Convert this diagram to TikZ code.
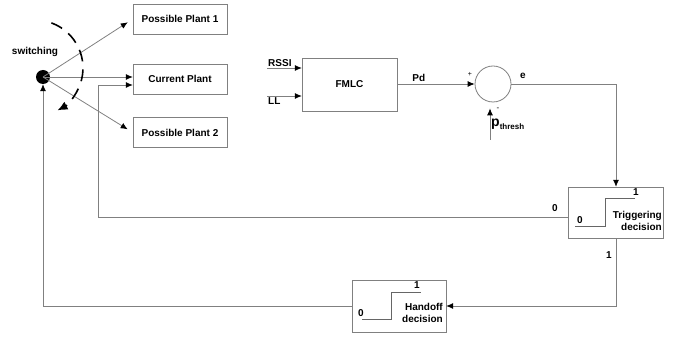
\documentclass[tikz,border=0pt]{standalone}
\usepackage{fontspec}
\setmainfont{Liberation Sans}
\usetikzlibrary{arrows.meta,positioning,calc}
\tikzset{
  blk/.style={draw=black!50,fill=white,minimum width=94pt,minimum height=30pt,inner sep=2pt},
  ln/.style={draw=black!50,line width=0.8pt},
  arr/.style={ln,-{Latex[length=7pt,width=6pt,color=black]}},
  lbl/.style={inner sep=1pt},
  stp/.style={draw=black!60,line width=0.8pt},
  swarc/.style={line width=1.6pt,dash pattern=on 12pt off 8pt},
}

\begin{document}
\begin{tikzpicture}[x=1pt,y=-1pt,font=\fontsize{10}{12}\selectfont\bfseries]
  \useasboundingbox (0,0) rectangle (678,339);
  % switch and plants
  \node[circle,fill,minimum size=14pt,inner sep=0pt] (sw) at (43,77) {};
  \node[lbl] (swl) at (35,52) {switching};
  \node[blk] (pp1) at (180,19) {Possible Plant 1};
  \node[blk] (cp) at (180,79) {Current Plant};
  \node[blk] (pp2) at (180,132.5) {Possible Plant 2};
  \draw[arr,shorten >=6pt] (sw.center) -- (pp1.west);
  \draw[arr] (sw.center) -- (sw.center -| cp.west);
  \draw[arr,shorten >=6pt] (sw.center) -- (pp2.west);
  \draw[swarc,-{Latex[length=10pt,width=9pt]}] (51.4,22.9) arc[start angle=-70,end angle=62,radius=48];
  % controller
  \node[blk,minimum width=95pt,minimum height=53pt] (fmlc) at (349.5,84.5) {FMLC};
  \coordinate (rssi) at (267,68);
  \coordinate (ll) at (267,96);
  \draw[arr] (rssi) -- (rssi -| fmlc.west);
  \draw[arr] (ll) -- (ll -| fmlc.west);
  \node[lbl,anchor=south west] at (rssi) {RSSI};
  \node[lbl,anchor=north west] at (ll) {LL};
  \node[circle,draw=black!50,line width=0.8pt,minimum size=36pt,inner sep=0pt] (sum) at (493,84) {};
  \draw[arr] (fmlc.east |- sum) -- (sum.west) node[lbl,pos=0.28,above=1pt] {Pd};
  \node[font=\fontsize{7}{8}\selectfont] at (470,74) {+};
  \node[font=\fontsize{8}{8}\selectfont] at (498,109) {-};
  \coordinate (pth) at (490,140);
  \draw[arr,shorten >=6pt] (pth) -- (pth |- sum.south);
  \node[anchor=west,inner sep=0pt] (pthl) at (491,124)
    {{\fontsize{14}{14}\selectfont p}\raisebox{-3pt}{\fontsize{8}{9}\selectfont thresh}};
  % triggering decision
  \node[blk,minimum width=95pt,minimum height=51pt] (trig) at (616,212.5) {};
  \coordinate (ec) at (616,84);
  \draw[arr] (sum.east) -- (ec) -- (trig.north);
  \node[lbl] at (523,76) {e};
  \draw[stp] ([shift={(-41,13.5)}]trig.center) -- ++(30,0) -- ++(0,-28) -- ++(30,0);
  \node[lbl] at (636,192) {1};
  \node[lbl] at (580,220) {0};
  \node[lbl,align=right,anchor=north east] at (663,210) {Triggering\\decision};
  \coordinate (fb) at (98,217);
  \draw[arr] (trig.west |- fb) -- (fb) |- ($(cp.west)+(0,6)$);
  \node[lbl] at (555,208) {0};
  % handoff decision
  \node[blk,minimum width=94pt,minimum height=52pt] (ho) at (399,306) {};
  \draw[arr] (trig.south) |- (ho.east);
  \node[lbl] at (609,255) {1};
  \draw[stp] ([shift={(-37,13)}]ho.center) -- ++(29,0) -- ++(0,-27) -- ++(30,0);
  \node[lbl] at (417,285) {1};
  \node[lbl] at (361,313) {0};
  \node[lbl,align=right,anchor=north east] at (444,302) {Handoff\\decision};
  \draw[arr] (ho.west) -| (sw.south);
\end{tikzpicture}
\end{document}
